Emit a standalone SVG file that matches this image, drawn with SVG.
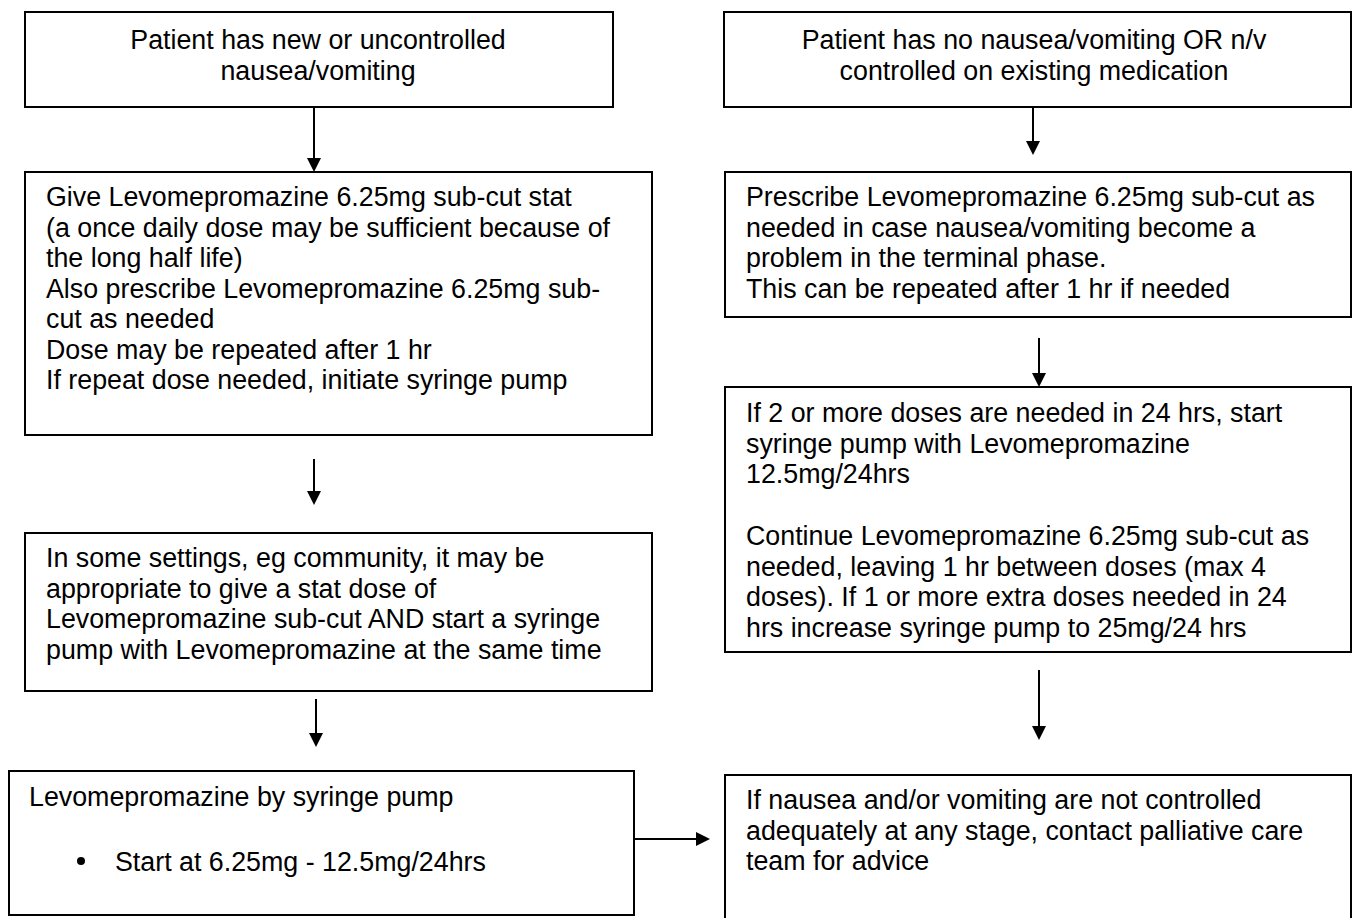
<svg xmlns="http://www.w3.org/2000/svg" width="1354" height="918" viewBox="0 0 1354 918">
<style>
.box{fill:#fff;stroke:#000;stroke-width:2}
.t{font-family:"Liberation Sans",Arial,sans-serif;font-size:26.8px;fill:#000}
.c{text-anchor:middle}
.ln{stroke:#000;stroke-width:2;fill:none}
.ah{fill:#000}
</style>
<rect width="1354" height="918" fill="#fff"/>
<g id="connectors">
<line class="ln" x1="314" y1="107" x2="314" y2="160"/><polygon class="ah" points="314,172 307,158 321,158"/>
<line class="ln" x1="314" y1="459" x2="314" y2="493"/><polygon class="ah" points="314,505 307,491 321,491"/>
<line class="ln" x1="316" y1="699" x2="316" y2="735"/><polygon class="ah" points="316,747 309,733 323,733"/>
<line class="ln" x1="634" y1="839" x2="698" y2="839"/><polygon class="ah" points="710,839 696,832 696,846"/>
<line class="ln" x1="1033" y1="107" x2="1033" y2="143"/><polygon class="ah" points="1033,155 1026,141 1040,141"/>
<line class="ln" x1="1039" y1="338" x2="1039" y2="375"/><polygon class="ah" points="1039,387 1032,373 1046,373"/>
<line class="ln" x1="1039" y1="670" x2="1039" y2="728"/><polygon class="ah" points="1039,740 1032,726 1046,726"/>
</g>
<g id="n1">
<rect class="box" x="25" y="12" width="588" height="95"/>
<text class="t c"><tspan x="318" y="49">Patient has new or uncontrolled</tspan><tspan x="318" y="79.5">nausea/vomiting</tspan></text>
</g>
<g id="n2">
<rect class="box" x="25" y="172" width="627" height="263"/>
<text class="t"><tspan x="46" y="206">Give Levomepromazine 6.25mg sub-cut stat</tspan><tspan x="46" y="236.5">(a once daily dose may be sufficient because of</tspan><tspan x="46" y="267">the long half life)</tspan><tspan x="46" y="297.5">Also prescribe Levomepromazine 6.25mg sub-</tspan><tspan x="46" y="328">cut as needed</tspan><tspan x="46" y="358.5">Dose may be repeated after 1 hr</tspan><tspan x="46" y="389">If repeat dose needed, initiate syringe pump</tspan></text>
</g>
<g id="n3">
<rect class="box" x="25" y="533" width="627" height="158"/>
<text class="t"><tspan x="46" y="567">In some settings, eg community, it may be</tspan><tspan x="46" y="597.5">appropriate to give a stat dose of</tspan><tspan x="46" y="628">Levomepromazine sub-cut AND start a syringe</tspan><tspan x="46" y="658.5">pump with Levomepromazine at the same time</tspan></text>
</g>
<g id="n4">
<rect class="box" x="9" y="771" width="625" height="144"/>
<text class="t"><tspan x="29" y="805.5">Levomepromazine by syringe pump</tspan></text>
<circle cx="81" cy="861" r="4"/>
<text class="t"><tspan x="115" y="870.5">Start at 6.25mg - 12.5mg/24hrs</tspan></text>
</g>
<g id="n5">
<rect class="box" x="724" y="12" width="627" height="95"/>
<text class="t c"><tspan x="1034" y="49">Patient has no nausea/vomiting OR n/v</tspan><tspan x="1034" y="79.5">controlled on existing medication</tspan></text>
</g>
<g id="n6">
<rect class="box" x="725" y="172" width="626" height="145"/>
<text class="t"><tspan x="746" y="206">Prescribe Levomepromazine 6.25mg sub-cut as</tspan><tspan x="746" y="236.5">needed in case nausea/vomiting become a</tspan><tspan x="746" y="267">problem in the terminal phase.</tspan><tspan x="746" y="297.5">This can be repeated after 1 hr if needed</tspan></text>
</g>
<g id="n7">
<rect class="box" x="725" y="387" width="626" height="265"/>
<text class="t"><tspan x="746" y="422">If 2 or more doses are needed in 24 hrs, start</tspan><tspan x="746" y="452.5">syringe pump with Levomepromazine</tspan><tspan x="746" y="483">12.5mg/24hrs</tspan><tspan x="746" y="545">Continue Levomepromazine 6.25mg sub-cut as</tspan><tspan x="746" y="575.5">needed, leaving 1 hr between doses (max 4</tspan><tspan x="746" y="606">doses).  If 1 or more extra doses needed in 24</tspan><tspan x="746" y="636.5">hrs increase syringe pump to 25mg/24 hrs</tspan></text>
</g>
<g id="n8">
<rect class="box" x="725" y="775" width="626" height="160"/>
<text class="t"><tspan x="746" y="809">If nausea and/or vomiting are not controlled</tspan><tspan x="746" y="839.5">adequately at any stage, contact palliative care</tspan><tspan x="746" y="870">team for advice</tspan></text>
</g>
</svg>
